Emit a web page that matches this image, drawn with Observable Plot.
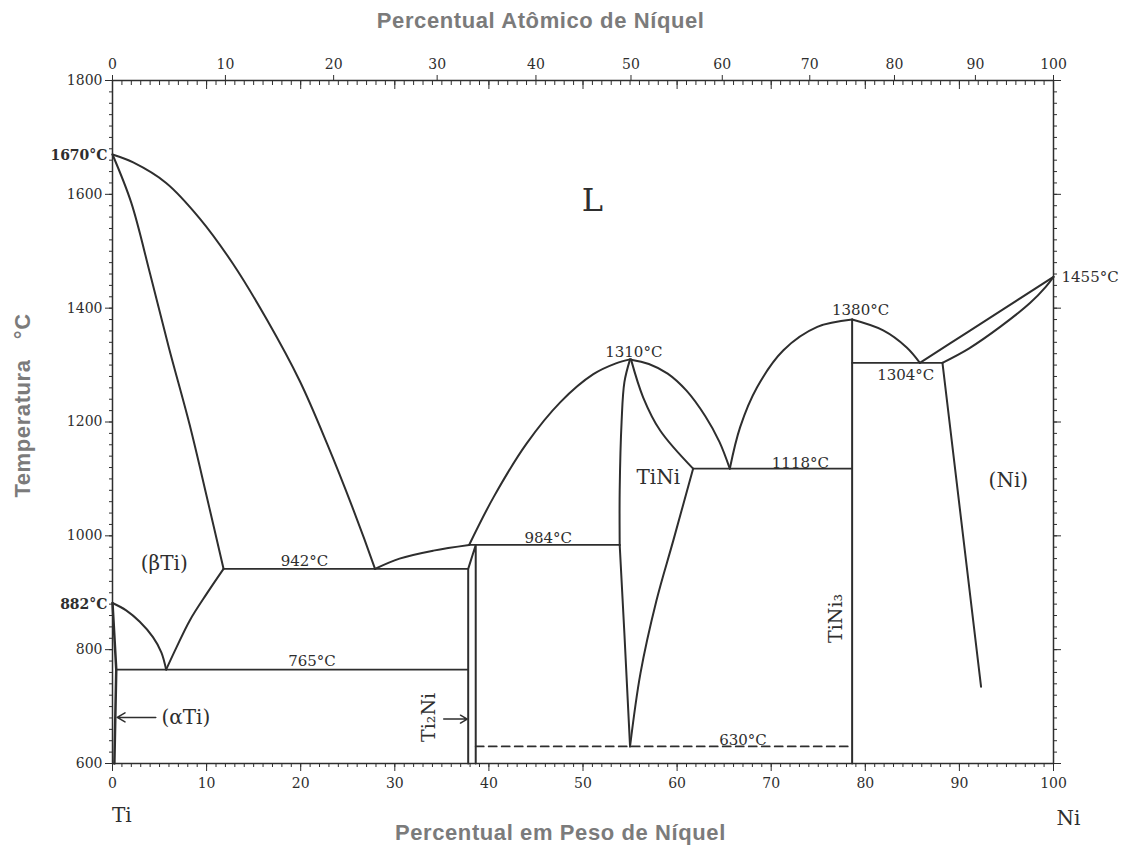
<!DOCTYPE html>
<html><head><meta charset="utf-8">
<script src="https://cdn.jsdelivr.net/npm/d3@7"></script>
<script src="https://cdn.jsdelivr.net/npm/@observablehq/plot@0.6"></script>
<style>body{margin:0;background:#fff} svg{display:block}</style>
</head><body><div id="chart"></div>
<script>
// ---- data (wt% Ni, °C) ----
const liquidusTi      = [[0,1670],[2.2,1656],[5.7,1620],[9.3,1557],[12.8,1478],[16.4,1380],[19.9,1272],[22.8,1162],[25.5,1050],[27.9,942]];
const solidusBetaTi   = [[0,1670],[2.0,1585],[4.0,1460],[6.0,1330],[8.2,1195],[10.0,1070],[11.8,942]];
const transusLeft     = [[0,882],[1.45,869],[2.9,849],[4.3,822],[5.2,795],[5.7,765]];
const transusRight    = [[5.7,765],[6.8,804],[8.2,851],[10.0,898],[11.8,942]];
const alphaSolvus     = [[0,882],[0.4,765],[0.2,600]];
const eutectoid765    = [[0.4,765],[37.8,765]];
const eutectic942     = [[11.8,942],[37.8,942]];
const liquidus942_984 = [[27.9,942],[30.5,960],[34.1,974],[37.9,984]];
const ti2NiPhase      = [[37.8,600],[37.8,942],[38.6,984],[38.6,600]];
const peritectic984   = [[37.9,984],[53.9,984]];
const liquidusTiNiL   = [[37.9,984],[40.5,1068],[44.0,1162],[47.6,1235],[51.1,1284],[53.5,1303],[55.0,1310]];
const tiNiLeftUpper   = [[55.0,1310],[54.4,1270],[54.1,1200],[53.9,1080],[53.9,984]];
const tiNiLeftLower   = [[53.9,984],[54.4,828],[55.0,630]];
const tiNiRightUpper  = [[55.1,1310],[56.4,1243],[58.2,1185],[61.7,1118]];
const tiNiRightLower  = [[61.7,1118],[59.6,992],[57.8,886],[56.1,758],[55.0,630]];
const liquidusTiNiR   = [[55.0,1310],[57.0,1302],[59.0,1285],[61.0,1255],[63.0,1210],[64.5,1165],[65.6,1118]];
const eutectic1118    = [[61.7,1118],[78.6,1118]];
const liquidusTiNi3L  = [[65.6,1118],[66.7,1191],[68.5,1261],[71.3,1326],[74.9,1367],[78.6,1380]];
const tiNi3Phase      = [[78.6,1380],[78.6,600]];
const liquidusTiNi3R  = [[78.6,1380],[81.9,1361],[84.4,1331],[85.8,1304]];
const eutectic1304    = [[78.6,1304],[88.2,1304]];
const liquidusNi      = [[85.8,1304],[90.8,1357],[100,1455]];
const solidusNi       = [[88.2,1304],[91.0,1329],[94.4,1368],[97.5,1409],[99.2,1438],[100,1455]];
const solvusNi        = [[88.2,1304],[92.3,735]];
const eutectoid630    = [[38.6,630],[78.6,630]];

// tick labels
const wtTicks   = [0,10,20,30,40,50,60,70,80,90,100];
const tempTicks = [600,800,1000,1200,1400,1600,1800];
const atPct     = [0,10,20,30,40,50,60,70,80,90,100];
const atPctAsWt = [0,12.0,23.5,34.5,45.0,55.1,64.8,74.1,83.1,91.7,100];

// annotations
const tempLabels = [
  {t:"1310°C", x:55.4, y:1322}, {t:"1380°C", x:79.5, y:1396},
  {t:"1304°C", x:84.3, y:1283}, {t:"1118°C", x:73.1, y:1127},
  {t:"984°C",  x:46.3, y:995},  {t:"942°C",  x:20.4, y:955},
  {t:"765°C",  x:21.2, y:780},  {t:"630°C",  x:67.0, y:641}
];
const phaseLabels = [
  {t:"TiNi", x:58.0, y:1103}, {t:"(Ni)", x:95.2, y:1097},
  {t:"(βTi)", x:5.5, y:951},  {t:"(αTi)", x:7.8, y:680}
];
const titles = {top: "Percentual Atômico de Níquel", bottom: "Percentual em Peso de Níquel", left: "Temperatura\u00a0\u00a0\u00a0°C"};

const INK = "#2e2e2e";
const SERIF = "DejaVu Serif, serif";
const SANS = "Liberation Sans, Arial, sans-serif";
const GRAY = "#7b7b7b";

const line = (data, o = {}) => Plot.line(data, {x: d => d[0], y: d => d[1], stroke: INK, strokeWidth: 2, curve: "catmull-rom", ...o});

const chart = Plot.plot({
  width: 1128, height: 849,
  marginLeft: 112, marginRight: 75, marginTop: 80, marginBottom: 86,
  x: {domain: [0, 100]},
  y: {domain: [600, 1800]},
  style: {background: "#fff", overflow: "visible"},
  marks: [
    Plot.frame({stroke: INK, strokeWidth: 1.5}),
    // bottom axis
    Plot.axisX(d3.range(0, 101, 1), {anchor: "bottom", tickSize: 4, tickFormat: () => "", color: INK, label: null}),
    Plot.axisX(wtTicks, {anchor: "bottom", tickSize: 8, tickPadding: 7, fontSize: 14, fontFamily: SERIF, color: INK, label: null, tickFormat: d => String(d)}),
    // top axis
    Plot.axisX(d3.range(0, 101, 1), {anchor: "top", tickSize: -4, tickFormat: () => "", color: INK, label: null}),
    Plot.axisX(wtTicks, {anchor: "top", tickSize: -8, tickFormat: () => "", color: INK, label: null}),
    Plot.axisX(atPctAsWt, {anchor: "top", tickSize: 6, tickPadding: 6, fontSize: 14, fontFamily: SERIF, color: INK, label: null,
      tickFormat: d => String(atPct[atPctAsWt.indexOf(d)])}),
    // left axis
    Plot.axisY(d3.range(600, 1801, 20), {anchor: "left", tickSize: 3, tickFormat: () => "", color: INK, label: null}),
    Plot.axisY(tempTicks, {anchor: "left", tickSize: 7, tickPadding: 3, fontSize: 14, fontFamily: SERIF, color: INK, label: null, tickFormat: d => String(d)}),
    // right axis
    Plot.axisY(d3.range(600, 1801, 20), {anchor: "right", tickSize: 3, tickFormat: () => "", color: INK, label: null}),
    Plot.axisY(tempTicks, {anchor: "right", tickSize: 7, tickFormat: () => "", color: INK, label: null}),

    // phase boundaries
    line(liquidusTi), line(solidusBetaTi), line(transusLeft), line(transusRight),
    line(alphaSolvus, {curve: "linear", strokeWidth: 2.5}),
    line(eutectoid765, {curve: "linear", strokeWidth: 1.8}),
    line(eutectic942, {curve: "linear", strokeWidth: 1.8}),
    line(liquidus942_984),
    line(ti2NiPhase, {curve: "linear"}),
    line(peritectic984, {curve: "linear", strokeWidth: 1.8}),
    line(liquidusTiNiL), line(tiNiLeftUpper), line(tiNiLeftLower, {curve: "linear"}),
    line(tiNiRightUpper), line(tiNiRightLower), line(liquidusTiNiR),
    line(eutectic1118, {curve: "linear", strokeWidth: 1.8}),
    line(liquidusTiNi3L), line(tiNi3Phase, {curve: "linear"}), line(liquidusTiNi3R),
    line(eutectic1304, {curve: "linear", strokeWidth: 1.8}),
    line(liquidusNi), line(solidusNi), line(solvusNi, {curve: "linear"}),
    line(eutectoid630, {curve: "linear", strokeWidth: 1.8, strokeDasharray: "8,5"}),

    // arrows
    Plot.arrow([{x1: 4.6, x2: 0.5, y: 681}], {x1: "x1", x2: "x2", y1: "y", y2: "y", stroke: INK, strokeWidth: 1.5, headLength: 9}),
    Plot.arrow([{x1: 35.2, x2: 37.7, y: 678}], {x1: "x1", x2: "x2", y1: "y", y2: "y", stroke: INK, strokeWidth: 1.5, headLength: 9}),

    // annotations
    Plot.text(tempLabels, {x: "x", y: "y", text: "t", fontSize: 15, fontFamily: SERIF, fill: INK}),
    Plot.text(phaseLabels, {x: "x", y: "y", text: "t", fontSize: 20, fontFamily: SERIF, fill: INK}),
    Plot.text(["L"], {x: 51, y: 1589, fontSize: 32, fontFamily: SERIF, fill: INK}),
    Plot.text(["Ti₂Ni"], {x: 33.6, y: 681, rotate: -90, fontSize: 19, fontFamily: SERIF, fill: INK}),
    Plot.text(["TiNi₃"], {x: 76.9, y: 855, rotate: -90, fontSize: 19, fontFamily: SERIF, fill: INK}),
    Plot.text(["1670°C"], {x: 0, y: 1668, dx: -5, textAnchor: "end", fontSize: 14, fontWeight: "bold", fontFamily: SERIF, fill: INK}),
    Plot.text(["882°C"], {x: 0, y: 880, dx: -5, textAnchor: "end", fontSize: 14, fontWeight: "bold", fontFamily: SERIF, fill: INK}),
    Plot.text(["1455°C"], {x: 100, y: 1455, dx: 8, textAnchor: "start", fontSize: 15, fontFamily: SERIF, fill: INK}),
    Plot.text(["Ti"], {x: 1.0, y: 600, dy: 52, fontSize: 20, fontFamily: SERIF, fill: INK}),
    Plot.text(["Ni"], {x: 101.6, y: 600, dy: 55, fontSize: 20, fontFamily: SERIF, fill: INK}),

    // axis titles
    Plot.text([titles.top], {x: 45.5, frameAnchor: "top", lineAnchor: "middle", dy: -60, fontSize: 22, fontWeight: "bold", fontFamily: SANS, fill: GRAY}),
    Plot.text([titles.bottom], {x: 47.6, frameAnchor: "bottom", lineAnchor: "middle", dy: 69, fontSize: 22, fontWeight: "bold", fontFamily: SANS, fill: GRAY}),
    Plot.text([titles.left], {y: 1229, frameAnchor: "left", textAnchor: "middle", lineAnchor: "middle", dx: -90, rotate: -90, fontSize: 22, fontWeight: "bold", fontFamily: SANS, fill: GRAY})
  ]
});
d3.select(chart).selectAll("text")
  .filter(function() { return Object.values(titles).includes(this.textContent); })
  .style("letter-spacing", "0.6px");
document.getElementById("chart").appendChild(chart);
</script></body></html>
